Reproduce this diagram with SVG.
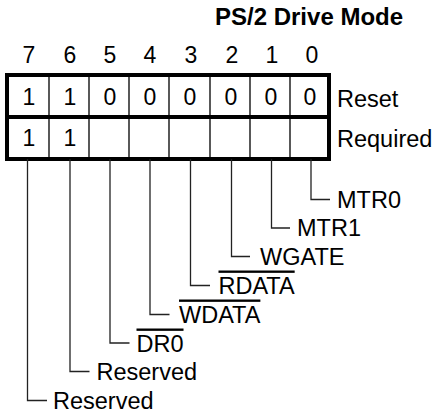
<svg xmlns="http://www.w3.org/2000/svg" width="433" height="415" viewBox="0 0 433 415">
<style>
text{font-family:"Liberation Sans",Arial,sans-serif;font-size:23px;fill:#000}
.t{font-weight:bold;font-size:24px}
.l{font-size:23.5px}
.c{text-anchor:middle}
.thick{stroke:#000;stroke-width:4;fill:none}
.thin{stroke:#000;stroke-width:1.3;fill:none}
.lead{stroke:#222;stroke-width:1.3;fill:none}
.ov{text-decoration:overline}
</style>
<rect width="433" height="415" fill="#fff"/>
<g id="title"><text class="t" x="215" y="25">PS/2 Drive Mode</text></g>
<g id="bitnumbers">
<text class="c" x="29" y="63">7</text>
<text class="c" x="70" y="63">6</text>
<text class="c" x="110" y="63">5</text>
<text class="c" x="150" y="63">4</text>
<text class="c" x="191" y="63">3</text>
<text class="c" x="232" y="63">2</text>
<text class="c" x="272" y="63">1</text>
<text class="c" x="312" y="63">0</text>
</g>
<g id="register">
<rect class="thick" x="7" y="75" width="322" height="84"/>
<line class="thick" x1="7" y1="117" x2="329" y2="117"/>
<path class="thin" d="M49 75V159M89 75V159M129 75V159M169 75V159M210 75V159M250 75V159M290 75V159"/>
<text class="c" x="29" y="104.5">1</text>
<text class="c" x="70" y="104.5">1</text>
<text class="c" x="110" y="104.5">0</text>
<text class="c" x="150" y="104.5">0</text>
<text class="c" x="190" y="104.5">0</text>
<text class="c" x="231" y="104.5">0</text>
<text class="c" x="271" y="104.5">0</text>
<text class="c" x="310" y="104.5">0</text>
<text class="c" x="29" y="146">1</text>
<text class="c" x="70" y="146">1</text>
<text class="l" x="337" y="106.5">Reset</text>
<text class="l" x="337" y="147">Required</text>
</g>
<g id="connectors">
<path class="lead" d="M311 159V199.5H330"/>
<path class="lead" d="M271.5 159V228H290"/>
<path class="lead" d="M231.5 159V256.5H250"/>
<path class="lead" d="M190.5 159V285.5H210"/>
<path class="lead" d="M150 159V314.5H169.5"/>
<path class="lead" d="M110 159V343H129.5"/>
<path class="lead" d="M70 159V371.5H89.5"/>
<path class="lead" d="M27.5 159V400.5H47"/>
</g>
<g id="label-mtr0"><text class="l" x="337" y="208">MTR0</text></g>
<g id="label-mtr1"><text class="l" x="297" y="236">MTR1</text></g>
<g id="label-wgate"><text class="l" x="260" y="264.5">WGATE</text></g>
<g id="label-rdata"><text class="l ov" x="218.5" y="293.5">RDATA</text></g>
<g id="label-wdata"><text class="l ov" x="179" y="322.5">WDATA</text></g>
<g id="label-dr0"><text class="l ov" x="136.5" y="351.5">DR0</text></g>
<g id="label-reserved6"><text class="l" x="96.5" y="380">Reserved</text></g>
<g id="label-reserved7"><text class="l" x="53" y="409">Reserved</text></g>
</svg>
